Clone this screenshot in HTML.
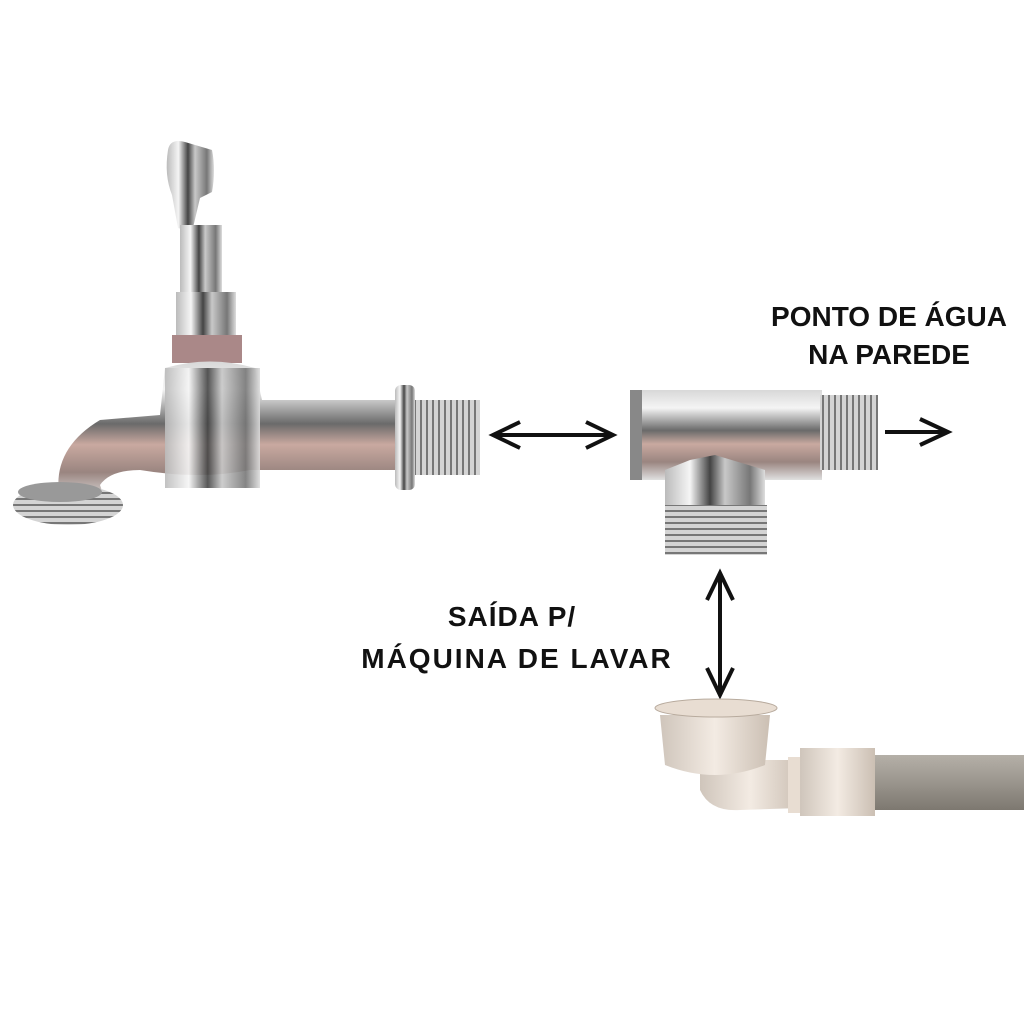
<!DOCTYPE html>
<html><head><meta charset="utf-8"><style>
html,body{margin:0;padding:0;background:#fff;width:1024px;height:1024px;overflow:hidden}
svg{display:block}
text{font-family:"Liberation Sans",sans-serif;font-weight:bold;fill:#111}
</style></head><body>
<svg width="1024" height="1024" viewBox="0 0 1024 1024">
<defs>
<linearGradient id="ch" x1="0" y1="0" x2="0" y2="1">
<stop offset="0" stop-color="#d8d8d8"/><stop offset="0.2" stop-color="#f4f4f4"/><stop offset="0.45" stop-color="#6a6a6a"/><stop offset="0.6" stop-color="#c9a9a0"/><stop offset="0.8" stop-color="#9a8580"/><stop offset="1" stop-color="#e0e0e0"/></linearGradient>
<linearGradient id="chv" x1="0" y1="0" x2="1" y2="0">
<stop offset="0" stop-color="#bbb"/><stop offset="0.25" stop-color="#f5f5f5"/><stop offset="0.45" stop-color="#444"/><stop offset="0.6" stop-color="#c8c8c8"/><stop offset="0.85" stop-color="#777"/><stop offset="1" stop-color="#ddd"/></linearGradient>
<pattern id="thr" width="6" height="6" patternUnits="userSpaceOnUse"><rect width="6" height="6" fill="#d4d4d4"/><rect width="2" height="6" fill="#777"/></pattern>
<pattern id="thrh" width="6" height="6" patternUnits="userSpaceOnUse"><rect width="6" height="6" fill="#d4d4d4"/><rect width="6" height="2" fill="#777"/></pattern>
<linearGradient id="pl" x1="0" y1="0" x2="1" y2="0"><stop offset="0" stop-color="#cfc5bb"/><stop offset="0.5" stop-color="#f3ebe3"/><stop offset="1" stop-color="#cbbfb3"/></linearGradient>
<linearGradient id="gr" x1="0" y1="0" x2="0" y2="1"><stop offset="0" stop-color="#b5b0a8"/><stop offset="0.5" stop-color="#9a958d"/><stop offset="1" stop-color="#7d7870"/></linearGradient>
</defs>
<!-- faucet -->
<path d="M168 150 Q170 138 185 142 L212 150 Q216 170 212 192 L200 198 L192 232 L178 228 L172 195 Q164 175 168 150 Z" fill="url(#chv)"/>
<rect x="180" y="225" width="42" height="70" fill="url(#chv)"/>
<rect x="176" y="292" width="60" height="45" fill="url(#chv)"/>
<rect x="172" y="335" width="70" height="28" fill="#a88"/>
<path d="M165 368 Q210 355 255 368 L262 400 L400 400 L400 470 L250 470 Q200 480 140 470 Q110 470 100 485 L105 500 L60 500 Q50 450 100 420 L160 415 Z" fill="url(#ch)"/>
<rect x="165" y="368" width="95" height="120" fill="url(#chv)" opacity="0.9"/>
<rect x="395" y="385" width="20" height="105" rx="6" fill="url(#chv)"/>
<rect x="415" y="400" width="65" height="75" fill="url(#thr)"/>
<ellipse cx="68" cy="505" rx="55" ry="20" fill="url(#thrh)"/>
<ellipse cx="60" cy="492" rx="42" ry="10" fill="#999"/>
<!-- arrows -->
<g stroke="#111" stroke-width="4" fill="none">
<line x1="493" y1="435" x2="613" y2="435"/><polyline points="520,422 493,435 520,448"/><polyline points="586,422 613,435 586,448"/>
<line x1="885" y1="432" x2="948" y2="432"/><polyline points="920,419 948,432 920,445"/>
<line x1="720" y1="573" x2="720" y2="695"/><polyline points="707,600 720,573 733,600"/><polyline points="707,668 720,695 733,668"/>
</g>
<!-- tee -->
<rect x="630" y="390" width="192" height="90" fill="url(#ch)"/>
<rect x="630" y="390" width="12" height="90" fill="#888"/>
<rect x="820" y="395" width="58" height="75" fill="url(#thr)"/>
<path d="M665 470 L690 460 L715 455 L765 470 L765 505 L665 505 Z" fill="url(#chv)"/>
<rect x="665" y="505" width="102" height="50" fill="url(#thrh)"/>
<!-- hose -->
<rect x="875" y="755" width="149" height="55" fill="url(#gr)"/>
<path d="M700 770 L700 790 Q710 812 740 810 L800 808 L800 760 L740 760 Z" fill="url(#pl)"/>
<rect x="788" y="757" width="14" height="56" fill="#e8ddd2"/>
<rect x="800" y="748" width="75" height="68" fill="url(#pl)"/>
<path d="M660 715 L770 715 L765 765 Q715 785 665 765 Z" fill="url(#pl)"/>
<ellipse cx="716" cy="708" rx="61" ry="9" fill="#e8ddd2" stroke="#b8ab9e"/>
<!-- text -->
<text x="889" y="326" font-size="28" text-anchor="middle">PONTO DE ÁGUA</text>
<text x="889" y="364" font-size="28" text-anchor="middle">NA PAREDE</text>
<text x="512" y="626" font-size="28" letter-spacing="1" text-anchor="middle">SAÍDA P/</text>
<text x="517" y="668" font-size="28" letter-spacing="2" text-anchor="middle">MÁQUINA DE LAVAR</text>
</svg>
</body></html>
